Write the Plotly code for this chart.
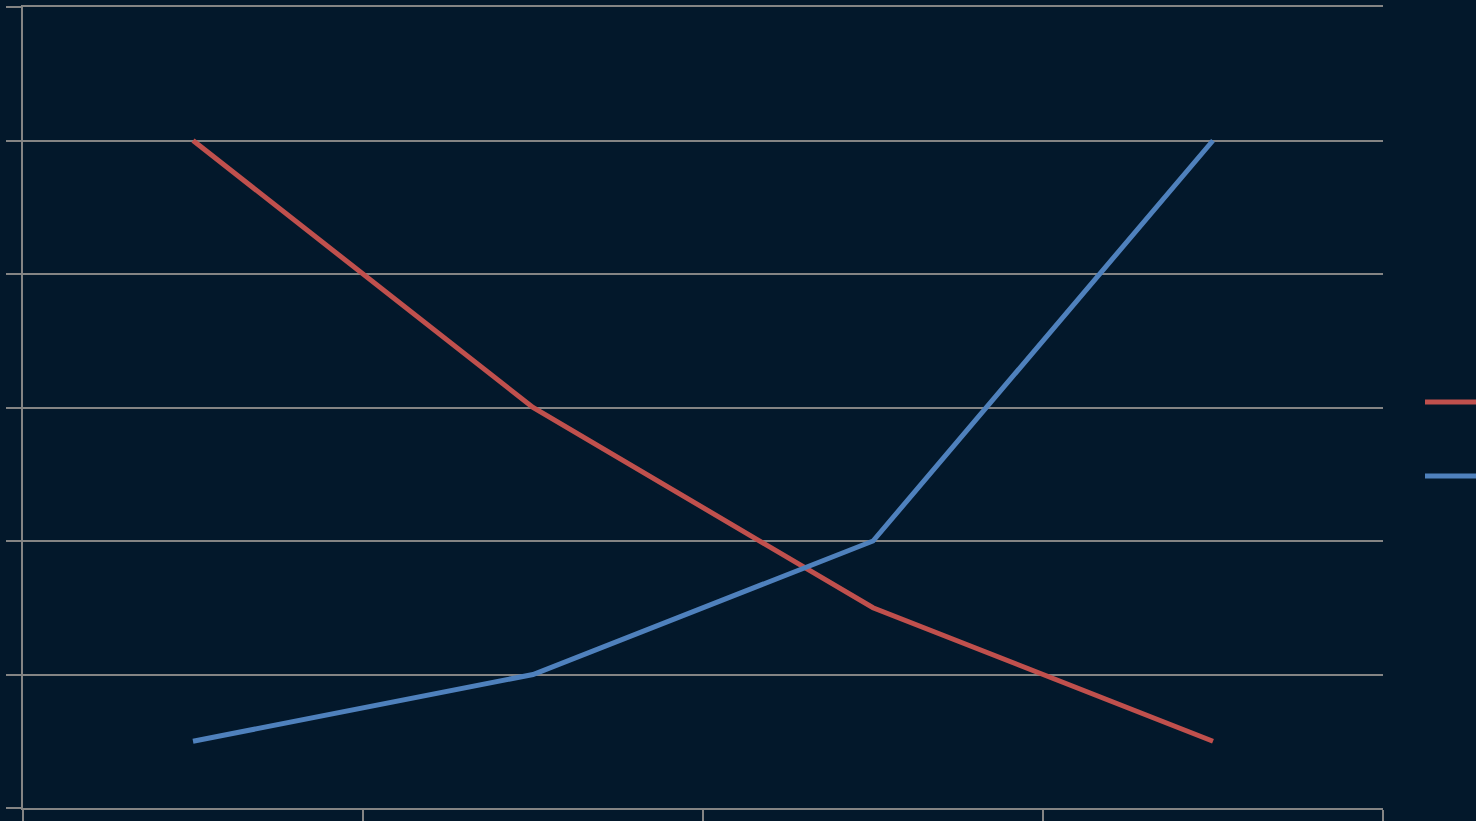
import plotly.graph_objects as go

categories = ["Category 1", "Category 2", "Category 3", "Category 4"]
series_red_name = "Series 1"
series_red = [5, 3, 1.5, 0.5]
series_blue_name = "Series 2"
series_blue = [0.5, 1, 2, 5]
y_ticks = [0, 1, 2, 3, 4, 5, 6]

BG = "#03182b"
GRID = "#848484"
RED = "#c0504d"
BLUE = "#4f81bd"

fig = go.Figure()
fig.add_trace(go.Scatter(x=categories, y=series_red, mode="lines", name=series_red_name,
                         line=dict(color=RED, width=5), showlegend=False))
fig.add_trace(go.Scatter(x=categories, y=series_blue, mode="lines", name=series_blue_name,
                         line=dict(color=BLUE, width=5), showlegend=False))

# legend keys (text lies beyond the visible canvas)
for yy, col in [(402, RED), (476, BLUE)]:
    fig.add_shape(type="line", xref="paper", yref="paper",
                  x0=(1425 - 23) / 1360, x1=(1520 - 23) / 1360,
                  y0=(808 - yy) / 801, y1=(808 - yy) / 801,
                  line=dict(color=col, width=5))

fig.update_layout(
    width=1476, height=821,
    margin=dict(l=23, r=93, t=7, b=13),
    paper_bgcolor=BG, plot_bgcolor=BG,
    xaxis=dict(type="category", range=[-0.5, 3.5], tickson="boundaries",
               showgrid=False, ticks="outside", ticklen=16, tickcolor=GRID, tickwidth=2,
               showline=True, mirror=True, linecolor=GRID, linewidth=2, showticklabels=False,
               automargin=False, zeroline=False),
    yaxis=dict(range=[0, 6], tickvals=y_ticks, showgrid=True, gridcolor=GRID, gridwidth=2,
               ticks="outside", ticklen=15, tickcolor=GRID, tickwidth=2,
               showline=True, linecolor=GRID, linewidth=2, showticklabels=False,
               automargin=False, zeroline=False),
)

fig.write_html("out.html", config={"displayModeBar": False},
               post_script="document.body.style.margin='0';document.body.style.overflow='hidden';document.body.style.background='" + BG + "';")
